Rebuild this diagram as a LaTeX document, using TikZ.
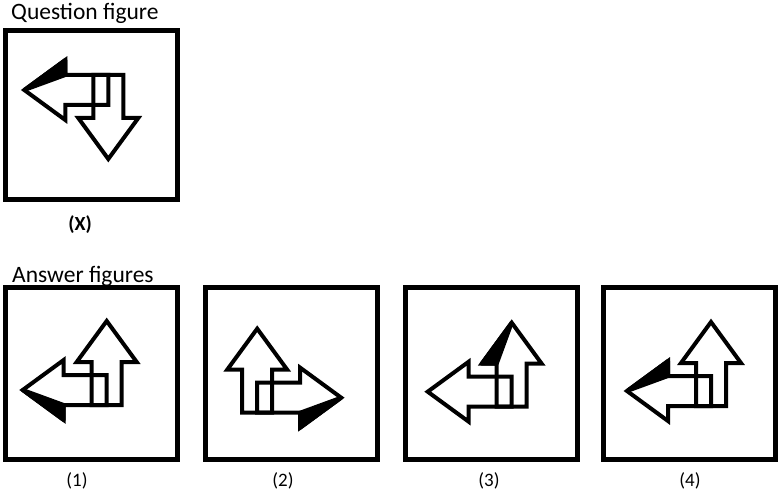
\documentclass[tikz,border=0pt]{standalone}
\usepackage{fontspec}
\setmainfont{Carlito}
\begin{document}
\begin{tikzpicture}[x=1pt,y=-1pt,
  frame/.style={draw=black,line width=5pt},
  outline/.style={draw=black,line width=4pt,line join=miter},
  barb/.style={fill=black,draw=black,line width=4pt,line join=round},
  head/.style={font=\fontsize{23.5}{28}\selectfont,anchor=base west,inner sep=0pt},
  lab/.style={font=\fontsize{19}{23}\selectfont,anchor=base,inner sep=0pt}]
\useasboundingbox (0,0) rectangle (779,494);
% canonical pieces (y grows downward)
\tikzset{
  pics/arrowA/.style={code={\draw[outline] (0,0) -- (-43,0) -- (-43,15) -- (-84,-15) -- (-43,-45) -- (-43,-30) -- (0,-30) -- cycle;}},
  pics/arrowB/.style={code={\draw[outline] (-15,0) -- (15,0) -- (15,-43) -- (30,-43) -- (0,-84) -- (-30,-43) -- (-15,-43) -- cycle;}},
  pics/lowbarb/.style={code={\filldraw[barb] (-84,-15) -- (-43,15) -- (-43,0) -- cycle;}},
  pics/upbarb/.style={code={\filldraw[barb] (-84,-15) -- (-43,-45) -- (-43,-30) -- cycle;}},
  pics/leftbarb/.style={code={\filldraw[barb] (0,-84) -- (-30,-43) -- (-15,-43) -- cycle;}}
}
% texts
\node[head] (qtitle) at (11,20) {Question figure};
\node[head] (atitle) at (12,283) {Answer figures};
\node[lab,font=\fontsize{20}{24}\selectfont\bfseries] (xlab) at (80,231) {(X)};
\node[lab] (l1) at (77,486) {(1)};
\node[lab] (l2) at (283,486) {(2)};
\node[lab] (l3) at (489,486) {(3)};
\node[lab] (l4) at (690,486) {(4)};
% frames
\draw[frame] (5.5,30.5) rectangle (177.5,199.5);
\draw[frame] (5.5,287.5) rectangle (177,459);
\draw[frame] (205,287.5) rectangle (377.5,459);
\draw[frame] (405,287.5) rectangle (577,459);
\draw[frame] (603.5,287.5) rectangle (775,459);
% question figure
\begin{scope}[shift={(108.3,75)},yscale=-1,transform shape]
  \pic {lowbarb}; \pic {arrowA}; \pic {arrowB};
\end{scope}
% answer 1
\begin{scope}[shift={(106.7,405)},transform shape]
  \pic {lowbarb}; \pic {arrowA}; \pic {arrowB};
\end{scope}
% answer 2
\begin{scope}[shift={(257.2,412.7)},xscale=-1,transform shape]
  \pic {lowbarb}; \pic {arrowA}; \pic {arrowB};
\end{scope}
% answer 3
\begin{scope}[shift={(511.7,406.7)},transform shape]
  \pic {leftbarb}; \pic {arrowA}; \pic {arrowB};
\end{scope}
% answer 4
\begin{scope}[shift={(711,406)},transform shape]
  \pic {upbarb}; \pic {arrowA}; \pic {arrowB};
\end{scope}
\end{tikzpicture}
\end{document}
